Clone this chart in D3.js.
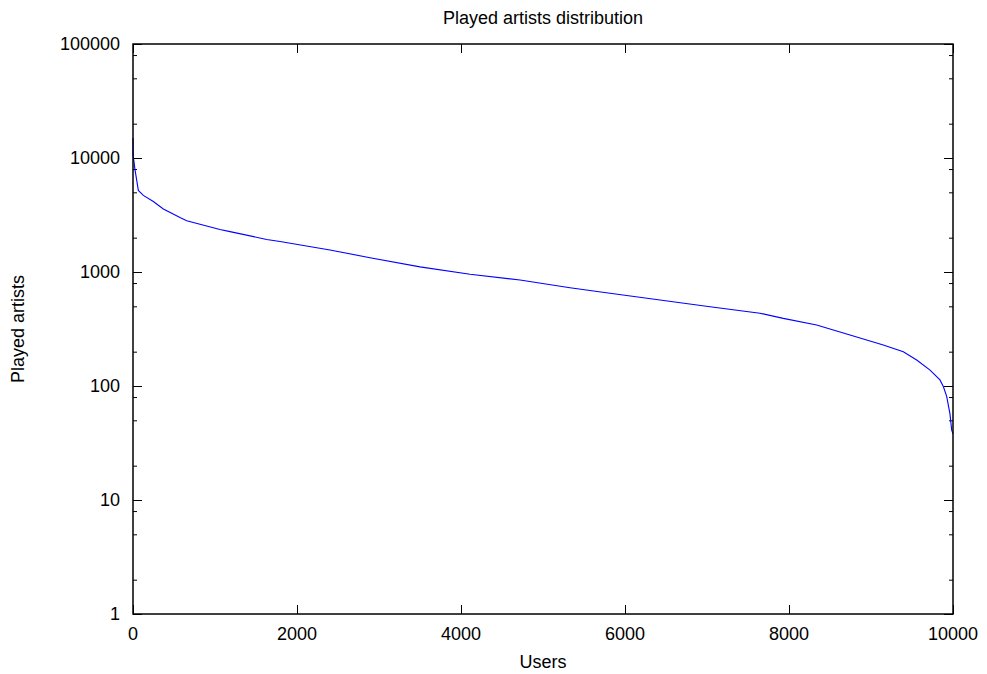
<!DOCTYPE html>
<html>
<head>
<meta charset="utf-8">
<script src="https://cdn.jsdelivr.net/npm/d3@7"></script>
<style>
  body { margin: 0; background: #fff; }
  text { font-family: "Liberation Sans", Arial, sans-serif; font-size: 18px; fill: #000; }
</style>
</head>
<body>
<div id="chart"></div>
<script>
// users ranked by number of played artists
const users = [0, 2, 12, 24, 45, 65, 126, 248, 370, 573, 655, 1060, 1183, 1630, 1793, 2402, 2890, 3500, 4110, 4720, 5329, 5817, 6427, 7037, 7646, 7930, 8337, 8744, 9150, 9394, 9557, 9720, 9841, 9882, 9923, 9963, 9984, 10000];
const played = [15000, 10500, 9300, 7900, 6400, 5200, 4700, 4150, 3570, 3000, 2820, 2360, 2260, 1930, 1850, 1560, 1335, 1110, 955, 850, 727, 651, 568, 496, 435, 392, 343, 280, 229, 200, 169, 138, 113, 99, 81, 57, 41, 38];

const xTicks = [0, 2000, 4000, 6000, 8000, 10000];
const yTicks = [1, 10, 100, 1000, 10000, 100000];
const yMinor = [];
yTicks.slice(0, -1).forEach(d => [2, 5, 8].forEach(m => yMinor.push(d * m)));

const width = 987, height = 674;
const margin = { left: 133, right: 34, top: 44, bottom: 60 };

const svg = d3.select("#chart").append("svg")
    .attr("width", width)
    .attr("height", height);

const x = d3.scaleLinear().domain([0, 10000]).range([margin.left, width - margin.right]);
const y = d3.scaleLog().domain([1, 100000]).range([height - margin.bottom, margin.top]);

const tickStyle = g => {
  g.select(".domain").remove();
  g.selectAll("line").attr("stroke", "#000").attr("stroke-width", 1);
};

// left axis ticks, right mirror ticks
svg.append("g")
    .attr("transform", `translate(${margin.left},0)`)
    .call(d3.axisRight(y).tickValues(yTicks).tickSize(9).tickFormat(""))
    .call(tickStyle);
svg.append("g")
    .attr("transform", `translate(${margin.left},0)`)
    .call(d3.axisRight(y).tickValues(yMinor).tickSize(4).tickFormat(""))
    .call(tickStyle);
svg.append("g")
    .attr("transform", `translate(${width - margin.right},0)`)
    .call(d3.axisLeft(y).tickValues(yTicks).tickSize(9).tickFormat(""))
    .call(tickStyle);
svg.append("g")
    .attr("transform", `translate(${width - margin.right},0)`)
    .call(d3.axisLeft(y).tickValues(yMinor).tickSize(4).tickFormat(""))
    .call(tickStyle);

// x axis bottom and top mirror
svg.append("g")
    .attr("transform", `translate(0,${height - margin.bottom})`)
    .call(d3.axisTop(x).tickValues(xTicks).tickSize(9).tickFormat(""))
    .call(tickStyle);
svg.append("g")
    .attr("transform", `translate(0,${margin.top})`)
    .call(d3.axisBottom(x).tickValues(xTicks).tickSize(9).tickFormat(""))
    .call(tickStyle);

// tick labels
svg.selectAll(".ylab")
  .data(yTicks)
  .enter().append("text")
    .attr("x", margin.left - 13)
    .attr("y", d => y(d))
    .attr("dy", "0.35em")
    .attr("text-anchor", "end")
    .text(d => d);

svg.selectAll(".xlab")
  .data(xTicks)
  .enter().append("text")
    .attr("x", d => x(d))
    .attr("y", height - margin.bottom + 26)
    .attr("text-anchor", "middle")
    .text(d => d);

// the curve
const line = d3.line()
    .x((d, i) => x(users[i]))
    .y(d => y(d));

svg.append("path")
    .datum(played)
    .attr("d", line)
    .attr("fill", "none")
    .attr("stroke", "#0000ff")
    .attr("stroke-width", 1.1);

// border
svg.append("rect")
    .attr("x", margin.left)
    .attr("y", margin.top)
    .attr("width", width - margin.left - margin.right)
    .attr("height", height - margin.top - margin.bottom)
    .attr("fill", "none")
    .attr("stroke", "#000")
    .attr("stroke-width", 1.5);

// titles
svg.append("text")
    .attr("x", (margin.left + width - margin.right) / 2)
    .attr("y", 24)
    .attr("text-anchor", "middle")
    .text("Played artists distribution");

svg.append("text")
    .attr("x", (margin.left + width - margin.right) / 2)
    .attr("y", height - 6)
    .attr("text-anchor", "middle")
    .text("Users");

svg.append("text")
    .attr("transform", `translate(24,${(margin.top + height - margin.bottom) / 2}) rotate(-90)`)
    .attr("text-anchor", "middle")
    .text("Played artists");
</script>
</body>
</html>
